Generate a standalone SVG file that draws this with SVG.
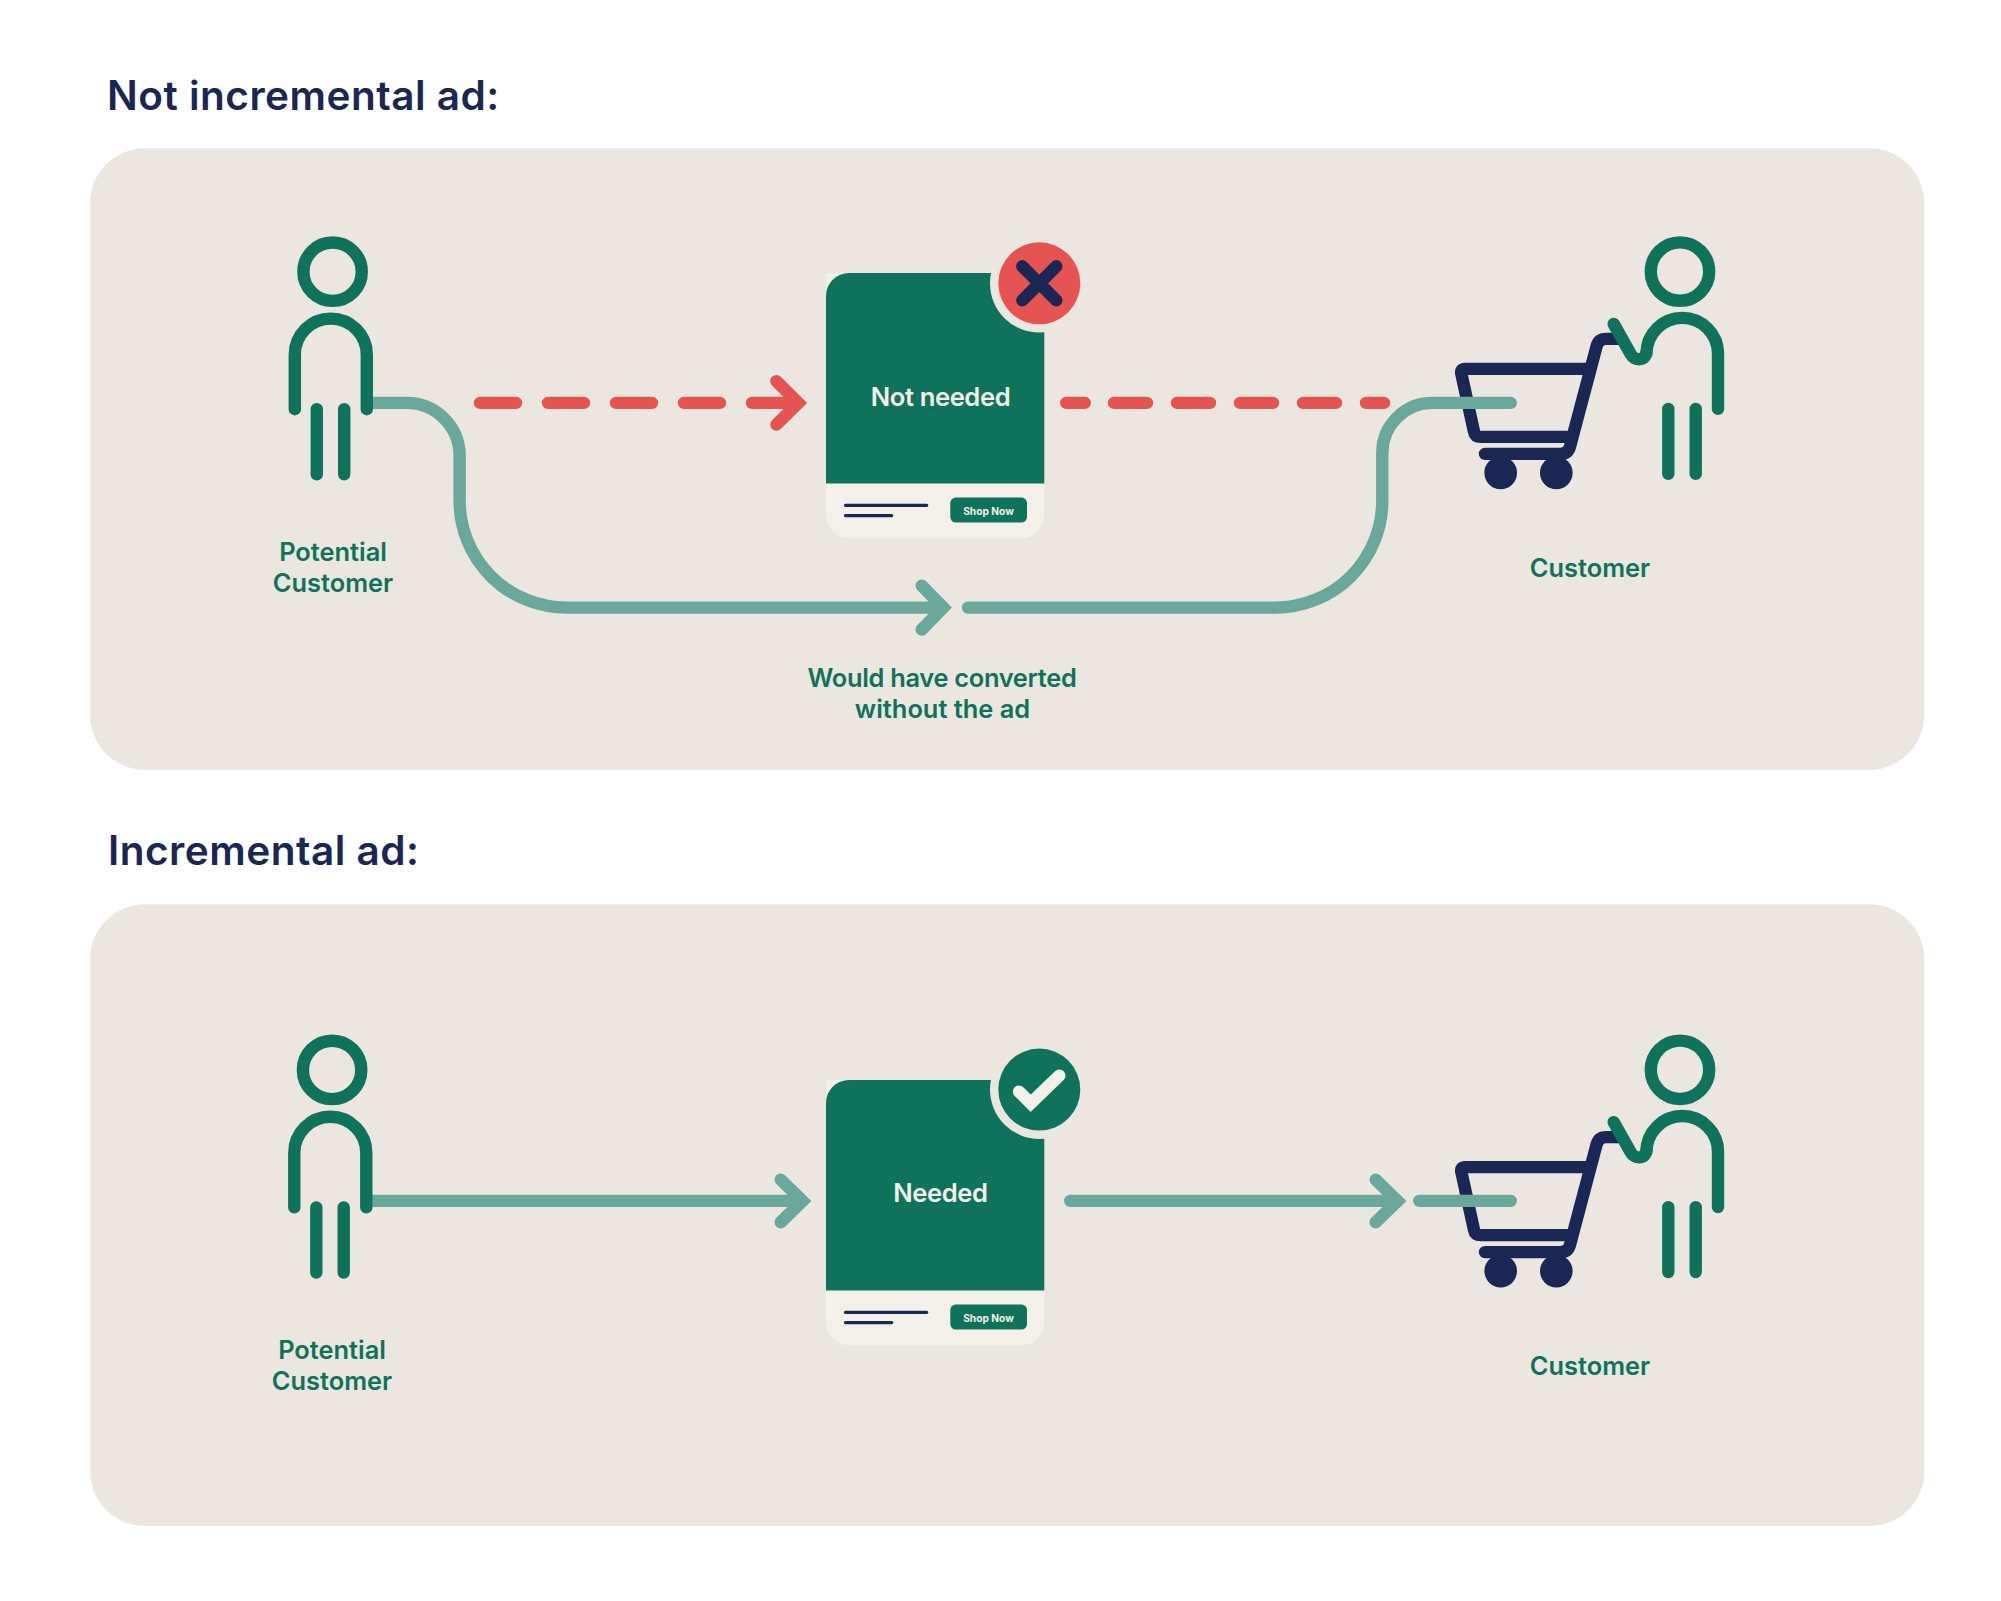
<svg xmlns="http://www.w3.org/2000/svg" xmlns:xlink="http://www.w3.org/1999/xlink" width="2001" height="1601" viewBox="0 0 2001 1601">
<style>
text{font-family:Inter,"Liberation Sans",sans-serif}
.title{font-size:40.5px;font-weight:600;fill:#1a2754;letter-spacing:.5px}
.lab{font-size:25.4px;font-weight:600;fill:#0e735a}
.cardt{font-size:25.6px;font-weight:600;fill:#f3f0ea;letter-spacing:-.4px}
.shop{font-size:10.2px;font-weight:700;fill:#f3f0ea}
.panel{fill:#ebe6e0}
.grn{fill:none;stroke:#0e735a;stroke-width:12.4;stroke-linecap:round;stroke-linejoin:round}
.nav{fill:none;stroke:#1a2754;stroke-width:12.4;stroke-linecap:round;stroke-linejoin:round}
.teal{fill:none;stroke:#69a89a;stroke-width:12.4;stroke-linecap:round}
.tip{fill:none;stroke-width:12.4;stroke-linecap:round;stroke-linejoin:miter;stroke-miterlimit:10}
.red{fill:none;stroke:#e65451;stroke-width:12.4;stroke-linecap:round}
</style>
<defs>
<g id="person">
<circle class="grn" cx="332.6" cy="271.1" r="29.2"/>
<path class="grn" d="M294.8,408.6V354A36,36 0 0 1 366.8,354V408.6"/>
<path class="grn" d="M316.8,408.6V473.7M344.2,408.6V473.7"/>
</g>
<g id="shopper">
<circle class="grn" cx="1680" cy="271" r="29.2"/>
<path class="grn" d="M1718,408.3V353A35.75,35.75 0 0 0 1646.5,353V350C1646.5,361.5 1634,360 1631,354L1613.7,323.3"/>
<path class="grn" d="M1668.3,408.3V473.3M1695.7,408.3V473.3"/>
</g>
<g id="cart">
<path class="nav" d="M1586,368.3H1465Q1460.3,368.3 1461.3,373L1474,431Q1475,436.3 1481,436.3H1568"/>
<path class="nav" d="M1618,338.3H1606Q1598.5,338.3 1596.5,346L1570,446Q1568,453.3 1560,453.3H1485"/>
<circle cx="1500.7" cy="472.3" r="16.3" fill="#1a2754"/>
<circle cx="1556.3" cy="472.3" r="16.3" fill="#1a2754"/>
</g>
<g id="card">
<path fill="#f3f0ea" d="M826,272.3H1044.3V514.6A23,23 0 0 1 1021.3,537.6H849A23,23 0 0 1 826,514.6Z"/>
<path fill="#0e735a" d="M826,295.3A23,23 0 0 1 849,272.3H1044.3V482.8H826Z"/>
<path fill="none" stroke="#1a2754" stroke-width="3.3" stroke-linecap="round" d="M845.5,504.7H926.7M845.5,515H891.7"/>
<rect x="950.3" y="497" width="76.7" height="25" rx="5.5" fill="#0e735a"/>
<text class="shop" x="988.5" y="514.4" text-anchor="middle">Shop Now</text>
</g>
</defs>
<g transform="translate(0,.6)">
<rect id="panel-top" class="panel" x="90" y="147.6" width="1834.3" height="621.7" rx="55"/>
<rect id="panel-bottom" class="panel" x="90" y="903.7" width="1834.3" height="621.8" rx="55"/>
<text id="title-top" class="title" x="107" y="109.3">Not incremental ad:</text>
<text id="title-bottom" class="title" x="108" y="864">Incremental ad:</text>

<g id="customer-top">
<use href="#cart"/>
<use href="#shopper"/>
<text class="lab" x="1590" y="576.3" text-anchor="middle">Customer</text>
</g>
<g id="customer-bottom">
<use href="#cart" transform="translate(0,798.2)"/>
<use href="#shopper" transform="translate(0,798.2)"/>
<text class="lab" x="1590" y="1374.3" text-anchor="middle">Customer</text>
</g>

<g id="connectors">
<path class="teal" stroke-linecap="butt" d="M372,402.3H406.6A53,53 0 0 1 459.6,455.3V500A107,107 0 0 0 566.6,607H943"/>
<path class="tip" stroke="#69a89a" d="M921.7,585L943.2,607L921.7,629"/>
<path class="teal" d="M968,607H1275.3A107,107 0 0 0 1382.3,500V452.3A50,50 0 0 1 1432.3,402.3H1510.7"/>
<path class="red" stroke-dasharray="36 32" d="M480,402.3H720"/>
<path class="red" d="M752,402.3H797"/>
<path class="tip" stroke="#e65451" d="M776.4,380.6L798.3,402.3L776.4,424"/>
<path class="red" d="M1066.3,402.3H1084.7M1114,402.3H1147M1177,402.3H1210M1240,402.3H1273M1303,402.3H1336M1366,402.3H1384"/>
<path class="teal" stroke-linecap="butt" d="M372,1200.3H802"/>
<path class="tip" stroke="#69a89a" d="M780.7,1179L802.5,1200.3L780.7,1221.6"/>
<path class="teal" d="M1070.3,1200.3H1397"/>
<path class="tip" stroke="#69a89a" d="M1375.7,1179L1397.5,1200.3L1375.7,1221.6"/>
<path class="teal" d="M1419.3,1200.3H1510.7"/>
</g>

<g id="potential-top">
<use href="#person"/>
<text class="lab" x="333" y="560" text-anchor="middle">Potential</text>
<text class="lab" x="333" y="591" text-anchor="middle">Customer</text>
</g>
<g id="ad-top">
<use href="#card"/>
<text class="cardt" x="940.5" y="405" text-anchor="middle">Not needed</text>
<circle cx="1039.3" cy="282.7" r="49.3" fill="#ebe6e0"/>
<circle cx="1039.3" cy="282.7" r="41" fill="#e65451"/>
<path class="nav" d="M1022.3,265.7L1056.3,299.7M1056.3,265.7L1022.3,299.7"/>
</g>
<text id="label-would" class="lab" x="942" y="686.7" text-anchor="middle" letter-spacing="-.3">Would have converted</text>
<text id="label-without" class="lab" x="942.5" y="717.7" text-anchor="middle">without the ad</text>

<g id="potential-bottom">
<use href="#person" transform="translate(-0.5,798.2)"/>
<text class="lab" x="332" y="1358" text-anchor="middle">Potential</text>
<text class="lab" x="332" y="1389.3" text-anchor="middle">Customer</text>
</g>
<g id="ad-bottom">
<use href="#card" transform="translate(0,807)"/>
<text class="cardt" x="940.5" y="1201" text-anchor="middle">Needed</text>
<circle cx="1039.3" cy="1089" r="49.3" fill="#ebe6e0"/>
<circle cx="1039.3" cy="1089" r="41" fill="#0e735a"/>
<path fill="none" stroke="#f3f0ea" stroke-width="12.4" stroke-linecap="round" stroke-linejoin="miter" d="M1019,1091L1030.7,1102.7L1059.3,1075"/>
</g>
</g>
</svg>
